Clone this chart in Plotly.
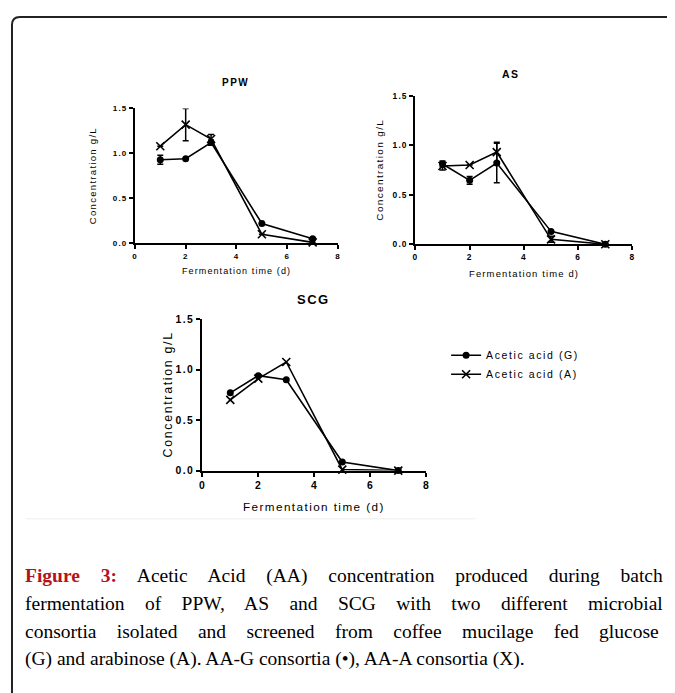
import plotly.graph_objects as go

W, H = 675, 693

# ---------------- data ----------------
days = [1, 2, 3, 5, 7]

ppw_g = [0.93, 0.94, 1.12, 0.22, 0.05]
ppw_g_err = [0.05, 0.0, 0.03, 0.0, 0.0]
ppw_a = [1.08, 1.32, 1.16, 0.10, 0.01]
ppw_a_err = [0.0, 0.18, 0.05, 0.0, 0.0]

as_g = [0.81, 0.645, 0.82, 0.13, 0.0]
as_g_err = [0.03, 0.04, 0.20, 0.0, 0.0]
as_a = [0.79, 0.80, 0.93, 0.05, 0.0]
as_a_err = [0.04, 0.0, 0.10, 0.03, 0.0]

scg_g = [0.77, 0.94, 0.90, 0.085, 0.0]
scg_a = [0.70, 0.91, 1.075, 0.01, 0.0]

x_ticks = [0, 2, 4, 6, 8]
y_ticks = [0.0, 0.5, 1.0, 1.5]
y_tick_labels = ["0.0", "0.5", "1.0", "1.5"]

legend_g = "Acetic acid (G)"
legend_a = "Acetic acid (A)"

titles = ["PPW", "AS", "SCG"]
ytitle = "Concentration g/L"
xtitles = ["Fermentation time (d)", "Fermentation time d)", "Fermentation time (d)"]

caption = [
    "<b><span style='color:#b5121b'>Figure 3:</span></b> Acetic Acid (AA) concentration produced during batch",
    "fermentation of PPW, AS and SCG with two different microbial",
    "consortia isolated and screened from coffee mucilage fed glucose",
    "(G) and arabinose (A). AA-G consortia (•), AA-A consortia (X).",
]

# ---------------- helpers ----------------
DX, DY = 8, 8  # page offset of the plot div


def px(x):
    return (x - DX) / W


def py(y):
    return 1 - (y - DY) / H


def spaced(t, ls):
    return f"<span style='letter-spacing:{ls}px'>{t}</span>"


SANS = "Liberation Sans, Arial, sans-serif"
SERIF = "Liberation Serif, Times New Roman, serif"

fig = go.Figure()

panels = [
    dict(x0=133, x1=338, yb=242, yt=105, fs=1.0),
    dict(x0=416, x1=635, yb=243, yt=92, fs=1.05),
    dict(x0=201, x1=427, yb=473, yt=319, fs=1.3),
]

series = [
    (ppw_g, ppw_g_err, ppw_a, ppw_a_err),
    (as_g, as_g_err, as_a, as_a_err),
    (scg_g, None, scg_a, None),
]

title_pos = [(235, 79), (512, 70), (313, 299)]
xtitle_y = [270, 273, 509]
ytitle_x = [91, 380, 166]


def ann(x, y, text, size, **kw):
    fig.add_annotation(x=px(x), y=py(y), xref="paper", yref="paper",
                       xanchor=kw.pop("xanchor", "center"), yanchor="middle",
                       text=text, showarrow=False,
                       font=dict(family=kw.pop("family", SANS), size=size, color="black"),
                       **kw)


for i, (p, (g, ge, a, ae)) in enumerate(zip(panels, series)):
    n = "" if i == 0 else str(i + 1)
    xa = "x" + n
    ya = "y" + n
    s = p["fs"]
    show = (i == 2)
    fig.add_trace(go.Scatter(
        x=days, y=g, xaxis=xa, yaxis=ya, mode="lines+markers",
        name=spaced(legend_g, 1.6), showlegend=show, cliponaxis=False,
        line=dict(color="black", width=1.6),
        marker=dict(symbol="circle", size=7, color="black"),
        error_y=dict(type="data", array=ge, visible=ge is not None,
                     color="black", thickness=1.5, width=3),
    ))
    fig.add_trace(go.Scatter(
        x=days, y=a, xaxis=xa, yaxis=ya, mode="lines+markers",
        name=spaced(legend_a, 1.6), showlegend=show, cliponaxis=False,
        line=dict(color="black", width=1.6),
        marker=dict(symbol="x-thin", size=8, color="black",
                    line=dict(color="black", width=1.6)),
        error_y=dict(type="data", array=ae, visible=ae is not None,
                     color="black", thickness=1.5, width=3),
    ))
    axis_common = dict(showline=True, linecolor="black", linewidth=2,
                       ticks="outside", ticklen=4, tickwidth=2, tickcolor="black",
                       showgrid=False, zeroline=False,
                       tickfont=dict(family=SANS, size=8 * s, color="black", weight="bold"))
    fig.update_layout(**{
        "xaxis" + n: dict(domain=[px(p["x0"]), px(p["x1"])], range=[0, 8],
                          tickvals=x_ticks, ticktext=[spaced(str(v), 1) for v in x_ticks],
                          anchor=ya, **axis_common),
        "yaxis" + n: dict(domain=[py(p["yb"]), py(p["yt"])], range=[0, 1.5],
                          tickvals=y_ticks, ticktext=[spaced(t, 1.1 * s) for t in y_tick_labels],
                          anchor=xa, **axis_common),
    })
    xc = (p["x0"] + p["x1"]) / 2
    tx, ty = title_pos[i]
    ann(tx, ty, "<b>" + spaced(titles[i], 1.5) + "</b>", 10 * s)
    ann(xc, xtitle_y[i], spaced(xtitles[i], 1.1 * s), 9 * s)
    ann(ytitle_x[i], (p["yb"] + p["yt"]) / 2, spaced(ytitle, 1.3 * s), 9.5 * s, textangle=-90)

# caption (first three lines justified via word spacing)
word_sp = [16, 15.5, 15.5, 0]
for k, line in enumerate(caption):
    txt = f"<span style='word-spacing:{word_sp[k]}px'>{line}</span>" if word_sp[k] else line
    ann(20, 580 + 28 * k, txt, 19.5, xanchor="left", align="left", family=SERIF)

# frame (rounded top-left corner) and separator line
r = 8
path = (f"M {px(9)},{py(H + 20)} L {px(9)},{py(12 + r)} "
        f"Q {px(9)},{py(12)} {px(9 + r)},{py(12)} L {px(W + 30)},{py(12)}")
fig.add_shape(type="path", path=path, xref="paper", yref="paper",
              line=dict(color="#222222", width=2))
fig.add_shape(type="line", x0=px(23), x1=px(477), y0=py(522), y1=py(522),
              xref="paper", yref="paper", line=dict(color="#eeeeee", width=1))

fig.update_layout(
    width=W, height=H,
    margin=dict(l=0, r=0, t=0, b=0),
    paper_bgcolor="white", plot_bgcolor="white",
    showlegend=True,
    legend=dict(x=px(447), y=py(341), xanchor="left", yanchor="top",
                bgcolor="rgba(0,0,0,0)", font=dict(family=SANS, size=10.5, color="black"),
                itemwidth=30, tracegroupgap=0),
)

fig.write_html("out.html")
